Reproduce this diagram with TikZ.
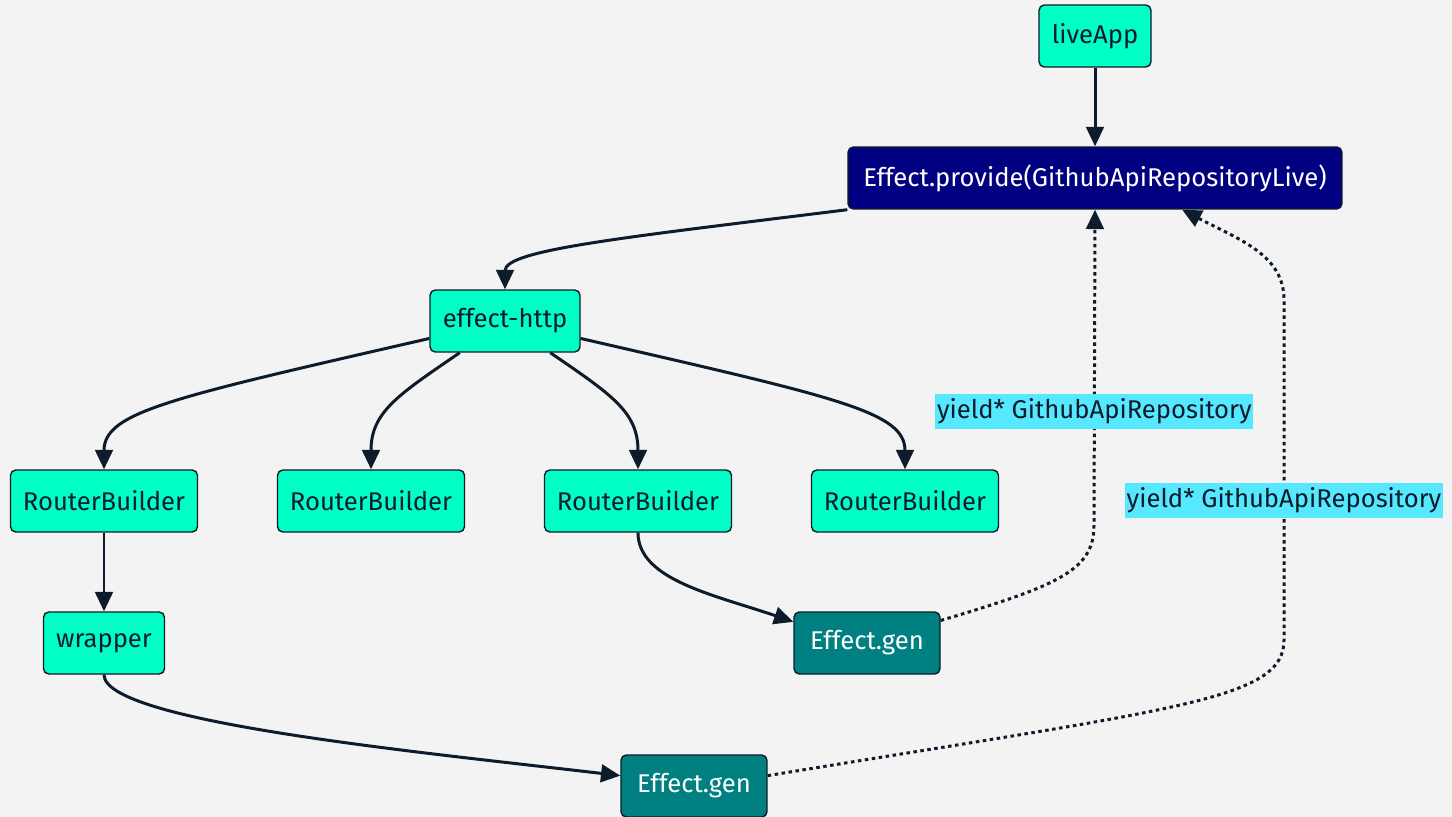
\documentclass[tikz,border=0pt]{standalone}
\usepackage{fontspec}
\setmainfont{Fira Sans}
\usetikzlibrary{arrows.meta,positioning}
\definecolor{bgc}{HTML}{F3F3F3}
\definecolor{mint}{HTML}{00FFC5}
\definecolor{navyc}{HTML}{000080}
\definecolor{tealc}{HTML}{008080}
\definecolor{linec}{HTML}{0D1B2A}
\definecolor{lblc}{HTML}{55E8FF}

\begin{document}
\begin{tikzpicture}[
    x=0.02cm, y=-0.02cm,
    box/.style={draw=linec, line width=0.8pt, rounded corners=3pt, minimum height=1.24cm, inner sep=0pt, font=\fontsize{14.6}{17}\selectfont},
    app/.style={box, fill=mint, text=linec},
    layer/.style={box, fill=navyc, text=white},
    gen/.style={box, fill=tealc, text=white},
    lbl/.style={fill=lblc, inner xsep=1pt, inner ysep=2.5pt, text=linec, font=\fontsize{14.6}{17}\selectfont},
    arr/.style={-{Triangle[length=11pt,width=10pt]}, line width=1.7pt, linec},
    dotarr/.style={arr, dash pattern=on 2pt off 2pt},
]

% Background / page size
\useasboundingbox (0,0) rectangle (1452,817);
\fill[bgc] (0,0) rectangle (1452,817);

% Top of the chain
\node[app, minimum width=2.24cm] (liveApp) at (1095,36) {liveApp};
\node[layer, minimum width=9.88cm] (provide) at (1095,178) {Effect.provide(GithubApiRepositoryLive)};
\node[app, minimum width=3cm] (http) at (505,321) {effect-http};

% Routers
\node[app, minimum width=3.74cm] (rb1) at (104,501) {RouterBuilder};
\node[app, minimum width=3.74cm] (rb2) at (371,501) {RouterBuilder};
\node[app, minimum width=3.74cm] (rb3) at (638,501) {RouterBuilder};
\node[app, minimum width=3.74cm] (rb4) at (905,501) {RouterBuilder};
\node[app, minimum width=2.42cm] (wrapper) at (104,643) {wrapper};

% Generators
\node[gen, minimum width=2.92cm] (gen1) at (867,643) {Effect.gen};
\node[gen, minimum width=2.92cm] (gen2) at (694,786) {Effect.gen};

% Bends of the dotted links
\coordinate (bendA) at (1094,525);
\coordinate (bendB) at (1284,640);
\coordinate (bendC) at (1284,300);

% Solid links
\draw[arr] (liveApp) -- (provide);
\draw[arr] (provide.south west) .. controls (620,238) and (505,250) .. (http.north);
\draw[arr] (http.193) .. controls (170,398) and (104,412) .. (rb1.north);
\draw[arr] (http.215) .. controls (398,395) and (371,412) .. (rb2.north);
\draw[arr] (http.325) .. controls (612,395) and (638,412) .. (rb3.north);
\draw[arr] (http.347) .. controls (840,398) and (905,412) .. (rb4.north);
\draw[arr] (rb1) -- (wrapper);
\draw[arr] (rb3.south) .. controls (638,580) and (715,595) .. (gen1.164);
\draw[arr] (wrapper.south) .. controls (104,722) and (420,752) .. (gen2.172);

% Dotted links
\draw[dotarr] (gen1.17) .. controls (1060,585) and (1094,570) .. (bendA) -- node[lbl, pos=0.36] (lblA) {yield* GithubApiRepository} (provide.south);
\draw[dotarr] (gen2.8) .. controls (1180,708) and (1284,700) .. (bendB) -- node[lbl, pos=0.41] (lblB) {yield* GithubApiRepository} (bendC) .. controls (1284,255) and (1240,240) .. (provide.340);

\end{tikzpicture}
\end{document}
